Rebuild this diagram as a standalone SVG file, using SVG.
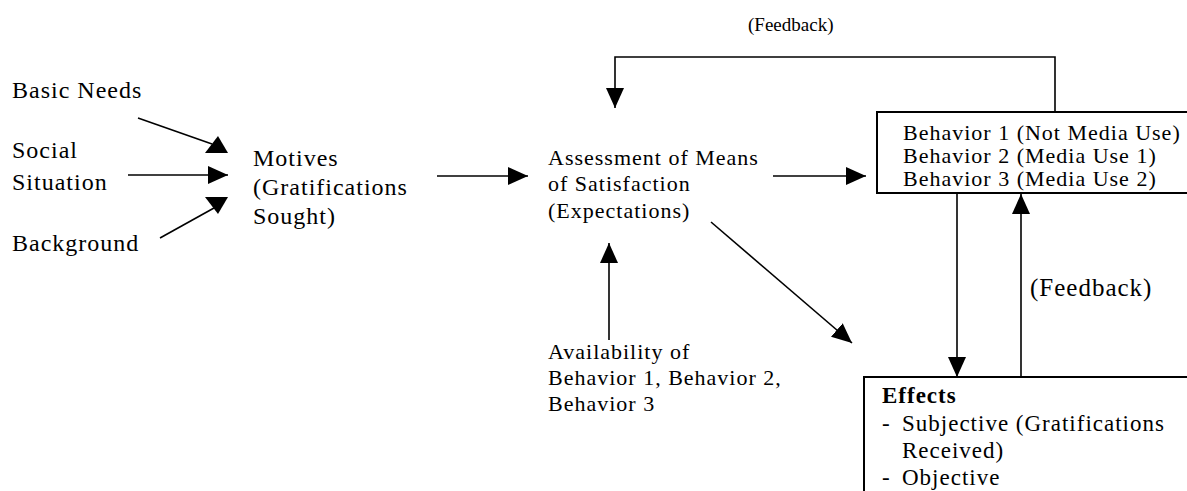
<svg xmlns="http://www.w3.org/2000/svg" width="1187" height="491" viewBox="0 0 1187 491">
<style>
text{font-family:"Liberation Serif","Times New Roman",serif;font-size:22px;fill:#000;letter-spacing:1px}
.l{font-size:24px}
.m{font-size:23px}
.s{font-size:19px;letter-spacing:0}
.xl{font-size:25px}
.b{font-weight:bold}
.ln{stroke:#000;stroke-width:1.6;fill:none}
.bx{stroke:#000;stroke-width:2;fill:#fff}
</style>
<defs>
<marker id="ah" markerWidth="20" markerHeight="18" refX="20" refY="9" orient="auto" markerUnits="userSpaceOnUse"><path d="M0,0 L20,9 L0,18 z" fill="#000"/></marker>
</defs>
<rect width="1187" height="491" fill="#fff"/>
<g id="connectors">
<line class="ln" x1="138" y1="118" x2="212" y2="144"/>
<polygon points="205,153 228,153 218,136" fill="#000"/>
<line class="ln" x1="128" y1="175" x2="228" y2="175" marker-end="url(#ah)"/>
<line class="ln" x1="160" y1="238" x2="214" y2="208"/>
<polygon points="205,197 228,197 218,214" fill="#000"/>
<line class="ln" x1="437" y1="176" x2="528" y2="176" marker-end="url(#ah)"/>
<line class="ln" x1="773" y1="176" x2="866" y2="176" marker-end="url(#ah)"/>
<line class="ln" x1="609" y1="340" x2="609" y2="243" marker-end="url(#ah)"/>
<line class="ln" x1="711" y1="222" x2="852" y2="343" marker-end="url(#ah)"/>
<line class="ln" x1="957" y1="193" x2="957" y2="377" marker-end="url(#ah)"/>
<line class="ln" x1="1021" y1="377" x2="1021" y2="194" marker-end="url(#ah)"/>
<polyline class="ln" points="1055,112 1055,57 615,57 615,108" marker-end="url(#ah)"/>
</g>
<g id="basic-needs"><text class="l" x="12" y="98">Basic Needs</text></g>
<g id="social-situation"><text class="l" x="12" y="158">Social</text><text class="l" x="12" y="190">Situation</text></g>
<g id="background"><text class="l" x="12" y="251">Background</text></g>
<g id="motives"><text class="l" x="253" y="166">Motives</text><text class="l" x="253" y="195">(Gratifications</text><text class="l" x="253" y="224">Sought)</text></g>
<g id="assessment"><text x="548" y="165">Assessment of Means</text><text x="548" y="191">of Satisfaction</text><text x="548" y="218">(Expectations)</text></g>
<g id="availability"><text x="548" y="359">Availability of</text><text x="548" y="385">Behavior 1, Behavior 2,</text><text x="548" y="411">Behavior 3</text></g>
<g id="feedback-top"><text class="s" x="748" y="31">(Feedback)</text></g>
<g id="feedback-right"><text class="xl" x="1030" y="296">(Feedback)</text></g>
<g id="behaviors">
<rect class="bx" x="877" y="112" width="330" height="81"/>
<text x="903" y="140">Behavior 1 (Not Media Use)</text>
<text x="903" y="163">Behavior 2 (Media Use 1)</text>
<text x="903" y="186">Behavior 3 (Media Use 2)</text>
</g>
<g id="effects">
<rect class="bx" x="864" y="377" width="340" height="130"/>
<text class="m b" x="882" y="403">Effects</text>
<text class="m" x="882" y="431">-</text><text class="m" x="902" y="431">Subjective (Gratifications</text>
<text class="m" x="902" y="458">Received)</text>
<text class="m" x="882" y="485">-</text><text class="m" x="902" y="485">Objective</text>
</g>
</svg>
